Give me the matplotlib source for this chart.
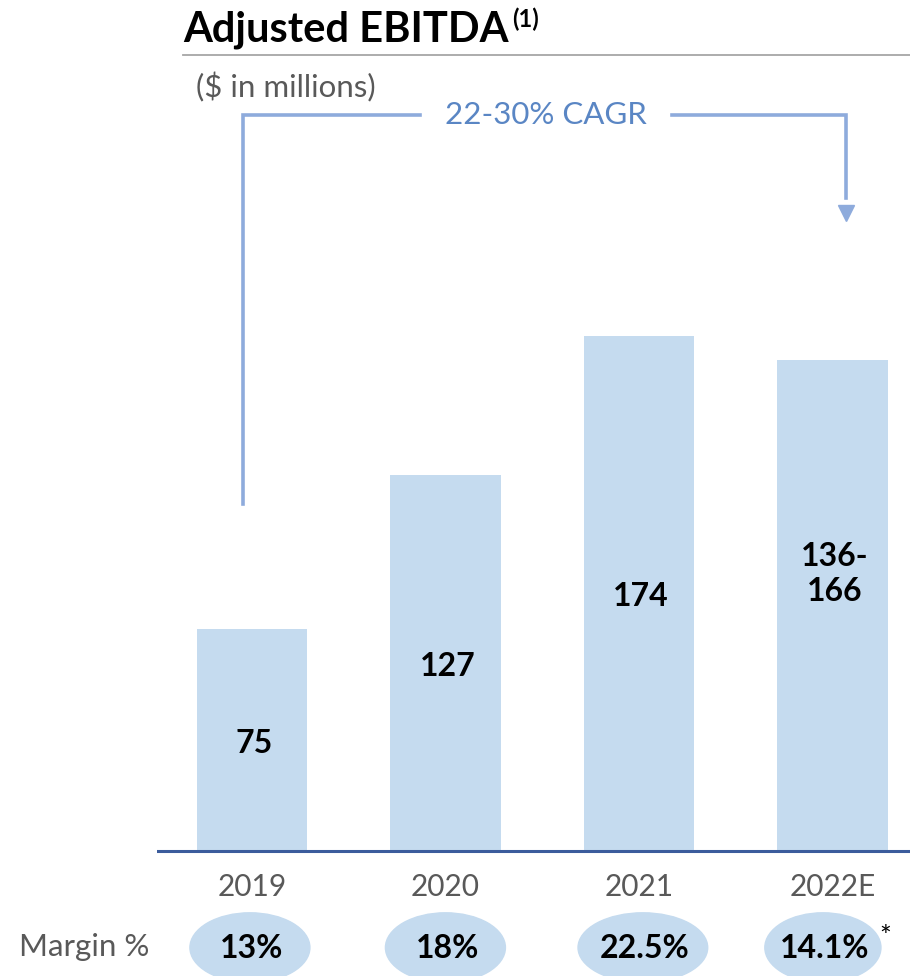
import matplotlib.pyplot as plt
from matplotlib.patches import Ellipse

plt.rcParams['font.family'] = ['Lato', 'DejaVu Sans']

years = ['2019', '2020', '2021', '2022E']
ebitda = [75, 127, 174, 166]
bar_labels = ['75', '127', '174', '136-\n166']
margins = ['13%', '18%', '22.5%', '14.1%']
cagr_text = '22-30% CAGR'

bar_color = '#c5dbef'
line_blue = '#8eabdc'
text_blue = '#5a86c4'
gray = '#595959'

W, H = 910, 976
fig = plt.figure(figsize=(W / 100, H / 100), dpi=100)

# axes covers the full height so the year row and margin ovals sit in data space
ax = fig.add_axes([157 / W, 0, 753 / W, 1])
ax.set_xlim(-0.49, 3.40)
ax.set_ylim(-42.2, 287.5)
ax.axis('off')

x = range(len(years))
ax.bar(x, ebitda, width=0.57, color=bar_color, zorder=2)
ax.axhline(0, color='#3b5c9c', lw=2.2, zorder=3)

label_y = [v / 2 - 1 for v in ebitda[:3]] + [93.5]
for i, (lab, ly) in enumerate(zip(bar_labels, label_y)):
    ax.text(i + 0.01, ly, lab, ha='center', va='center', fontsize=23,
            fontweight='bold', color='black', linespacing=1.25, zorder=4)

# year row and margin ovals
oval_dx = [-0.01, 0.0, 0.02, -0.05]
oval_w = [0.62, 0.62, 0.67, 0.6]
for i, (yr, m) in enumerate(zip(years, margins)):
    ax.text(i, -12.3, yr, ha='center', va='center', fontsize=21.5, color=gray)
    ax.add_patch(Ellipse((i + oval_dx[i], -32.6), oval_w[i], 23.5,
                         color=bar_color, clip_on=False, zorder=1))
    ax.text(i + oval_dx[i] + 0.01, -32.8, m, ha='center', va='center',
            fontsize=23, fontweight='bold', color='black', zorder=2)
ax.text(-0.53, -32.4, 'Margin %', ha='right', va='center', fontsize=22.5,
        color=gray)
ax.text(3.27, -29.3, '*', ha='center', va='center', fontsize=20,
        color='black')

# CAGR bracket from 2019 to 2022E
left_x, right_x = -0.047, 3.067
top_y = 248.5
ax.plot([left_x, left_x, 0.87], [117.3, top_y, top_y], color=line_blue,
        lw=2.6, solid_joinstyle='miter', clip_on=False)
ax.plot([2.17, right_x, right_x], [top_y, top_y, 220.5], color=line_blue,
        lw=2.6, solid_joinstyle='miter', clip_on=False)
ax.plot([right_x], [215.5], marker='v', markersize=11, color=line_blue,
        clip_on=False)
ax.text(1.52, top_y, cagr_text, ha='center', va='center', fontsize=22.5,
        color=text_blue)

# title block
title = fig.text(183 / W, 1 - 30 / H, 'Adjusted EBITDA', ha='left',
                 va='center', fontsize=30, fontweight='bold', color='black')
fig.canvas.draw()
tb = title.get_window_extent()
fig.text(tb.x1 / W + 4 / W, 1 - 19 / H, '(1)', ha='left', va='center',
         fontsize=17, fontweight='bold', color='black')
fig.add_artist(plt.Line2D([183 / W, 1], [1 - 55 / H, 1 - 55 / H],
                          color='#a6a6a6', lw=1.3))
fig.text(196 / W, 1 - 87 / H, '($ in millions)', ha='left', va='center',
         fontsize=22.5, color=gray)

fig.savefig('out.png', dpi=100, facecolor='white')
